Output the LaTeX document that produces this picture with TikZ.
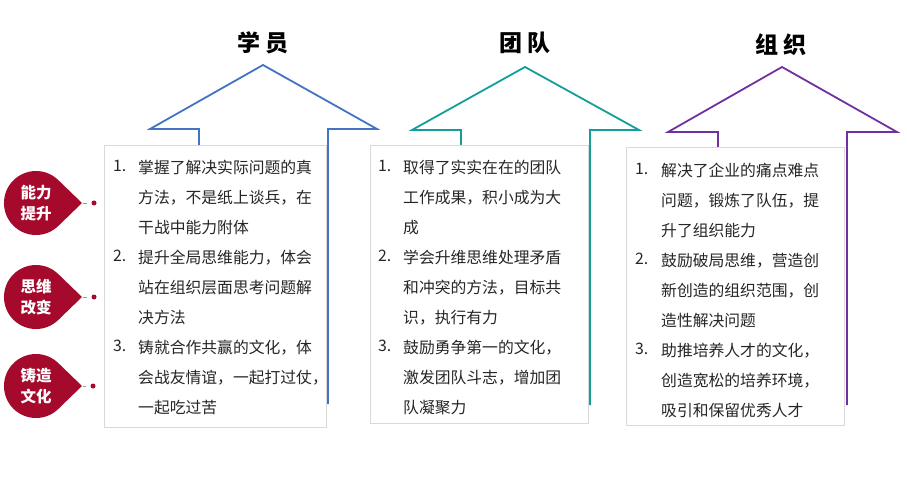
\documentclass[tikz,border=0pt]{standalone}
\usepackage{fontspec}
\setmainfont{Noto Sans CJK SC}
\definecolor{tagred}{HTML}{A50A2D}
\definecolor{upblue}{HTML}{4472C4}
\definecolor{upteal}{HTML}{139E9A}
\definecolor{uppurple}{HTML}{7030A0}
\begin{document}
\begin{tikzpicture}[x=1pt, y=-1pt,
        card/.style={draw=black!15, fill=white, anchor=north west, inner sep=0pt},
        head/.style={font=\fontsize{23}{26}\selectfont\bfseries, text=black},
        item/.style={anchor=north west, inner sep=0pt, align=left, font=\fontsize{15.8}{30}\selectfont, text=black!85},
        shaft/.style={line width=1.8pt, line join=miter},
        tag/.style={text=white, align=center, font=\fontsize{15.5}{21}\selectfont\bfseries},
        dot/.style={circle, fill=tagred, inner sep=0pt, minimum size=5pt},
        link/.style={draw=black!40, line width=0.8pt, shorten <=1pt, shorten >=4pt}
    ]
        \useasboundingbox (0,0) rectangle (907,478);

        % up arrows
        \draw[shaft, upblue] (199,404) -- (199,129) -- (150,129) -- (263,65) -- (377,129) -- (328,129) -- (328,404);
        \draw[shaft, upteal] (461,405) -- (461,130) -- (412,130) -- (525,67) -- (639,130) -- (590,130) -- (590,405);
        \draw[shaft, uppurple] (718,405) -- (718,132) -- (668,132) -- (782,67) -- (897,132) -- (847,132) -- (847,405);

        \node[head] (h1) at (263,43) {学\hspace{5pt}员};
        \node[head] (h2) at (525,43) {团\hspace{5pt}队};
        \node[head] (h3) at (781,45) {组\hspace{5pt}织};

        % cards
        \node[card, minimum width=222pt, minimum height=282pt] (c1) at (104,145) {};
        \node[card, minimum width=218pt, minimum height=278pt] (c2) at (370,145) {};
        \node[card, minimum width=218pt, minimum height=278pt] (c3) at (626,147) {};

        \node[item] (n11) at (113,160) {1.};
        \node[item] (s11) at (138,160) {掌握了解决实际问题的真\\方法，不是纸上谈兵，在\\干战中能力附体};
        \node[item] (n12) at (113,250) {2.};
        \node[item] (s12) at (138,250) {提升全局思维能力，体会\\站在组织层面思考问题解\\决方法};
        \node[item] (n13) at (113,340) {3.};
        \node[item] (s13) at (138,340) {铸就合作共赢的文化，体\\会战友情谊，一起打过仗，\\一起吃过苦};

        \node[item] (n21) at (378,160) {1.};
        \node[item] (s21) at (403,160) {取得了实实在在的团队\\工作成果，积小成为大\\成};
        \node[item] (n22) at (378,250) {2.};
        \node[item] (s22) at (403,250) {学会升维思维处理矛盾\\和冲突的方法，目标共\\识，执行有力};
        \node[item] (n23) at (378,340) {3.};
        \node[item] (s23) at (403,340) {鼓励勇争第一的文化，\\激发团队斗志，增加团\\队凝聚力};

        \node[item] (n31) at (635,163) {1.};
        \node[item] (s31) at (661,163) {解决了企业的痛点难点\\问题，锻炼了队伍，提\\升了组织能力};
        \node[item] (n32) at (635,253) {2.};
        \node[item] (s32) at (661,253) {鼓励破局思维，营造创\\新创造的组织范围，创\\造性解决问题};
        \node[item] (n33) at (635,343) {3.};
        \node[item] (s33) at (661,343) {助推培养人才的文化，\\创造宽松的培养环境，\\吸引和保留优秀人才};

        % side tags
        \coordinate (t1) at (82,203);
        \coordinate (t2) at (82,297);
        \coordinate (t3) at (82,386);
        \fill[tagred] (t1) -- ++(-23.8,-23) arc[start angle=-46, end angle=-314, radius=32] -- cycle;
        \fill[tagred] (t2) -- ++(-23.8,-23) arc[start angle=-46, end angle=-314, radius=32] -- cycle;
        \fill[tagred] (t3) -- ++(-23.8,-23) arc[start angle=-46, end angle=-314, radius=32] -- cycle;
        \node[tag] (g1) at (36,203) {能力\\提升};
        \node[tag] (g2) at (36,297) {思维\\改变};
        \node[tag] (g3) at (36,386) {铸造\\文化};
        \node[dot] (d1) at (94,203) {};
        \node[dot] (d2) at (94,297) {};
        \node[dot] (d3) at (93,386) {};
        \draw[link] (t1) -- (d1);
        \draw[link] (t2) -- (d2);
        \draw[link] (t3) -- (d3);
    \end{tikzpicture}
\end{document}
